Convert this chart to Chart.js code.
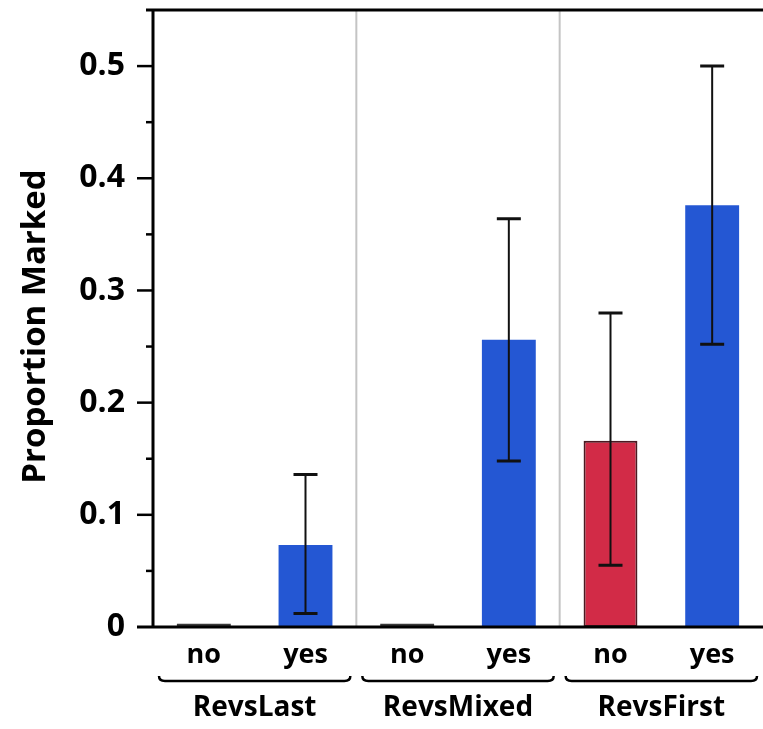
<!DOCTYPE html>
<html>
<head>
<meta charset="utf-8">
<script src="https://cdn.jsdelivr.net/npm/chart.js@4.4.1/dist/chart.umd.min.js"></script>
<style>
  html, body { margin: 0; padding: 0; background: #fff; }
  #wrap { width: 763px; height: 729px; }
</style>
</head>
<body>
<div id="wrap"><canvas id="markedChart" width="763" height="729"></canvas></div>
<script>
const categories = ['no', 'yes', 'no', 'yes', 'no', 'yes'];
const groups = ['RevsLast', 'RevsMixed', 'RevsFirst'];
const proportions = [0.003, 0.073, 0.003, 0.256, 0.166, 0.376];
const errLow = [null, 0.012, null, 0.148, 0.055, 0.252];
const errHigh = [null, 0.136, null, 0.364, 0.280, 0.500];
const barColors = ['#3a3a3a', '#2457d3', '#3a3a3a', '#2457d3', '#d22b47', '#2457d3'];
const barBorders = ['#3a3a3a', '#2457d3', '#3a3a3a', '#2457d3', '#4a1a22', '#2457d3'];

const FONT = '"Open Sans", "DejaVu Sans", sans-serif';

// axes, ticks, separators, brackets, error bars
const decorations = {
    id: 'decorations',
    beforeDatasetsDraw(chart) {
        const { ctx, chartArea: a, scales: { x } } = chart;
        ctx.save();
        ctx.strokeStyle = '#c4c4c4';
        ctx.lineWidth = 2;
        for (let g = 1; g < groups.length; g++) {
            const sx = (x.getPixelForTick(g * 2 - 1) + x.getPixelForTick(g * 2)) / 2;
            ctx.beginPath();
            ctx.moveTo(sx, a.top);
            ctx.lineTo(sx, a.bottom);
            ctx.stroke();
        }
        ctx.restore();
    },
    afterDatasetsDraw(chart) {
        const { ctx, chartArea: a, scales: { x, y } } = chart;
        const meta = chart.getDatasetMeta(0);
        ctx.save();

        // error bars
        ctx.strokeStyle = '#111';
        meta.data.forEach((bar, i) => {
            if (errLow[i] === null) return;
            const yl = y.getPixelForValue(errLow[i]);
            const yh = y.getPixelForValue(errHigh[i]);
            ctx.lineWidth = 2;
            ctx.beginPath();
            ctx.moveTo(bar.x, yl);
            ctx.lineTo(bar.x, yh);
            ctx.stroke();
            ctx.lineWidth = 3;
            ctx.beginPath();
            ctx.moveTo(bar.x - 12, yl);
            ctx.lineTo(bar.x + 12, yl);
            ctx.moveTo(bar.x - 12, yh);
            ctx.lineTo(bar.x + 12, yh);
            ctx.stroke();
        });

        // frame: top line, left axis, bottom axis
        ctx.strokeStyle = '#000';
        ctx.lineWidth = 3;
        ctx.beginPath();
        ctx.moveTo(a.left - 7, a.top);
        ctx.lineTo(a.right, a.top);
        ctx.moveTo(a.left, a.top);
        ctx.lineTo(a.left, a.bottom);
        ctx.moveTo(a.left - 16, a.bottom);
        ctx.lineTo(a.right, a.bottom);
        ctx.stroke();

        // y ticks (major every 0.1, minor every 0.05)
        ctx.lineWidth = 2.5;
        y.ticks.forEach((t, i) => {
            const py = y.getPixelForTick(i);
            if (py <= a.top + 2 || py >= a.bottom - 1) return;
            const major = Math.abs(t.value * 10 - Math.round(t.value * 10)) < 1e-6;
            ctx.beginPath();
            ctx.moveTo(a.left - (major ? 16 : 7), py);
            ctx.lineTo(a.left, py);
            ctx.stroke();
        });

        // y title
        ctx.fillStyle = '#000';
        ctx.font = 'bold 33px ' + FONT;
        ctx.textAlign = 'center';
        ctx.textBaseline = 'middle';
        ctx.translate(36, (a.top + a.bottom) / 2 + 8);
        ctx.rotate(-Math.PI / 2);
        ctx.fillText('Proportion Marked', 0, 0);
        ctx.restore();

        // group brackets and labels
        ctx.save();
        ctx.strokeStyle = '#000';
        ctx.fillStyle = '#000';
        ctx.lineWidth = 2.5;
        ctx.font = 'bold 28px ' + FONT;
        ctx.textAlign = 'center';
        ctx.textBaseline = 'middle';
        const step = x.getPixelForTick(1) - x.getPixelForTick(0);
        groups.forEach((g, gi) => {
            const left = x.getPixelForTick(gi * 2) - step / 2;
            const right = x.getPixelForTick(gi * 2 + 1) + step / 2;
            const by = 681;
            ctx.beginPath();
            ctx.moveTo(left + 6, by - 5);
            ctx.quadraticCurveTo(left + 6, by, left + 12, by);
            ctx.lineTo(right - 12, by);
            ctx.quadraticCurveTo(right - 6, by, right - 6, by - 5);
            ctx.stroke();
            ctx.fillText(g, (left + right) / 2, 708);
        });
        ctx.restore();
    }
};

const ctx = document.getElementById('markedChart').getContext('2d');
new Chart(ctx, {
    type: 'bar',
    data: {
        labels: categories,
        datasets: [{
            label: 'Proportion Marked',
            data: proportions,
            backgroundColor: barColors,
            borderColor: barBorders,
            borderWidth: [0, 0, 0, 0, 2, 0],
            borderSkipped: false,
            barPercentage: 0.53,
            categoryPercentage: 1
        }]
    },
    options: {
        responsive: false,
        animation: false,
        layout: { padding: { top: 10, right: 0, left: 0, bottom: 0 } },
        plugins: { legend: { display: false }, tooltip: { enabled: false } },
        scales: {
            x: {
                grid: { display: false, drawTicks: false },
                border: { display: false },
                ticks: {
                    color: '#000',
                    font: { family: FONT, size: 27, weight: 'bold' },
                    padding: 12,
                    maxRotation: 0
                },
                afterFit(scale) {
                    scale.height = 102;
                    scale.paddingLeft = 0;
                    scale.paddingRight = 0;
                }
            },
            y: {
                min: 0,
                max: 0.55,
                grid: { display: false, drawTicks: false },
                border: { display: false },
                ticks: {
                    stepSize: 0.05,
                    color: '#000',
                    padding: 28,
                    font: { family: FONT, size: 32, weight: 'bold' },
                    callback(v) {
                        const r = Math.round(v * 10);
                        if (Math.abs(v * 10 - r) > 1e-6 || v > 0.5) return '';
                        return r === 0 ? '0' : (r / 10).toFixed(1);
                    }
                },
                afterFit(scale) {
                    scale.width = 153;
                    scale.paddingTop = 0;
                    scale.paddingBottom = 0;
                }
            }
        }
    },
    plugins: [decorations]
});
</script>
</body>
</html>
